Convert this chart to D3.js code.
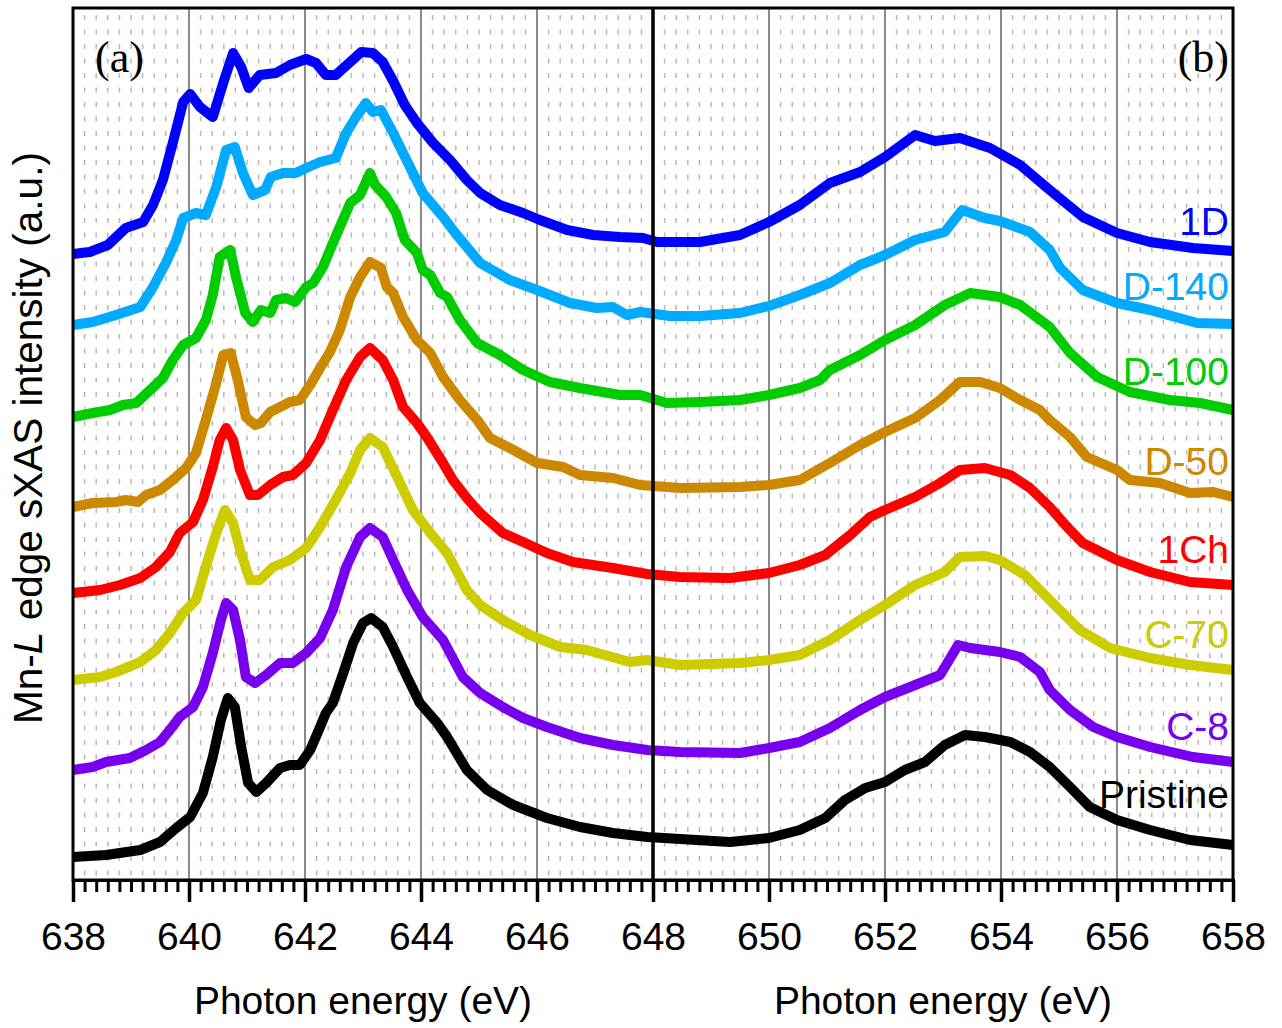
<!DOCTYPE html>
<html>
<head>
<meta charset="utf-8">
<script src="https://cdn.jsdelivr.net/npm/d3@7"></script>
<style>
  body { margin: 0; background: #fff; }
  svg { font-family: "Liberation Sans", Arial, sans-serif; }
</style>
</head>
<body>
<svg id="chart" width="1282" height="1028"></svg>
<script>
// Mn L-edge soft X-ray absorption spectra, stacked with vertical offsets (a.u.)
const seriesNames = ["1D", "D-140", "D-100", "D-50", "1Ch", "C-70", "C-8", "Pristine"];

// [photon energy (eV), intensity (a.u., offset included)]
const s1D = [[638.00,6.26],[638.29,6.28],[638.60,6.35],[638.91,6.52],[639.21,6.58],[639.38,6.75],[639.55,7.00],[639.72,7.37],[639.90,7.78],[640.02,7.86],[640.19,7.73],[640.41,7.63],[640.59,7.97],[640.76,8.27],[640.90,8.13],[641.03,7.92],[641.22,8.05],[641.50,8.07],[641.74,8.15],[642.02,8.21],[642.19,8.17],[642.36,8.05],[642.53,8.05],[642.78,8.18],[642.97,8.28],[643.17,8.27],[643.34,8.18],[643.52,7.99],[643.72,7.75],[643.93,7.57],[644.21,7.37],[644.50,7.20],[644.79,7.00],[645.02,6.87],[645.36,6.75],[645.76,6.67],[646.05,6.60],[646.52,6.50],[646.97,6.45],[647.43,6.43],[647.83,6.42],[648.07,6.38],[648.47,6.38],[648.81,6.38],[649.50,6.45],[650.00,6.58],[650.53,6.75],[651.05,6.97],[651.57,7.08],[652.00,7.23],[652.52,7.45],[652.86,7.39],[653.29,7.42],[653.81,7.32],[654.33,7.15],[654.84,6.90],[655.41,6.63],[656.00,6.47],[656.57,6.38],[657.31,6.32],[658.00,6.29]];
const sD140 = [[638.00,5.55],[638.34,5.58],[638.74,5.65],[639.16,5.73],[639.38,5.93],[639.60,6.17],[639.78,6.40],[639.90,6.62],[640.12,6.67],[640.29,6.65],[640.47,6.93],[640.64,7.30],[640.79,7.33],[640.93,7.07],[641.10,6.85],[641.31,6.90],[641.41,7.03],[641.62,7.07],[641.84,7.07],[642.02,7.12],[642.26,7.18],[642.53,7.22],[642.71,7.47],[642.88,7.63],[643.05,7.77],[643.17,7.68],[643.31,7.70],[643.52,7.47],[643.69,7.27],[643.86,7.07],[644.03,6.87],[644.38,6.63],[644.59,6.47],[645.02,6.17],[645.53,6.00],[646.00,5.90],[646.57,5.77],[647.03,5.72],[647.31,5.73],[647.55,5.65],[647.78,5.68],[648.29,5.64],[648.81,5.64],[649.50,5.67],[650.00,5.74],[650.53,5.85],[651.05,5.97],[651.57,6.15],[652.00,6.25],[652.52,6.40],[653.03,6.48],[653.33,6.70],[653.72,6.62],[653.98,6.59],[654.50,6.48],[654.84,6.30],[655.02,6.12],[655.41,5.90],[656.00,5.77],[656.57,5.70],[657.38,5.57],[658.00,5.56]];
const sD100 = [[638.00,4.63],[638.34,4.67],[638.64,4.70],[638.86,4.75],[639.09,4.77],[639.33,4.90],[639.55,5.02],[639.72,5.20],[639.90,5.35],[640.12,5.42],[640.29,5.60],[640.41,5.85],[640.53,6.23],[640.71,6.30],[640.81,6.03],[640.97,5.67],[641.10,5.58],[641.24,5.70],[641.40,5.67],[641.50,5.80],[641.67,5.82],[641.83,5.78],[642.02,5.93],[642.14,5.97],[642.31,6.13],[642.43,6.30],[642.60,6.53],[642.78,6.77],[642.95,6.85],[643.12,7.07],[643.21,6.95],[643.40,6.83],[643.57,6.67],[643.72,6.40],[643.93,6.27],[644.03,6.10],[644.16,6.05],[644.33,5.87],[644.45,5.83],[644.67,5.60],[644.97,5.37],[645.36,5.25],[645.76,5.10],[646.22,4.98],[646.74,4.92],[647.43,4.85],[647.78,4.85],[648.24,4.77],[648.81,4.78],[649.50,4.80],[650.00,4.85],[650.53,4.92],[650.88,5.00],[651.05,5.10],[651.57,5.25],[652.00,5.40],[652.52,5.55],[653.03,5.75],[653.47,5.87],[653.98,5.83],[654.33,5.75],[654.84,5.53],[655.19,5.27],[655.66,5.03],[656.22,4.88],[656.91,4.80],[657.43,4.77],[658.00,4.70]];
const sD50 = [[638.00,3.73],[638.34,3.77],[638.74,3.78],[638.91,3.80],[639.12,3.78],[639.26,3.85],[639.50,3.90],[639.72,4.00],[639.95,4.12],[640.12,4.27],[640.29,4.60],[640.47,4.97],[640.59,5.25],[640.72,5.27],[640.84,5.00],[640.98,4.63],[641.14,4.55],[641.24,4.57],[641.40,4.68],[641.57,4.73],[641.74,4.78],[641.91,4.80],[642.09,4.95],[642.26,5.12],[642.43,5.28],[642.60,5.50],[642.78,5.83],[642.95,6.03],[643.12,6.18],[643.31,6.12],[643.41,5.93],[643.52,5.87],[643.69,5.63],[643.93,5.40],[644.16,5.27],[644.38,5.03],[644.67,4.80],[644.97,4.60],[645.19,4.42],[645.53,4.32],[646.00,4.17],[646.45,4.13],[646.74,4.05],[647.31,4.02],[647.78,3.95],[648.47,3.92],[649.50,3.93],[650.00,3.95],[650.53,4.00],[651.05,4.17],[651.57,4.35],[652.00,4.48],[652.52,4.62],[652.95,4.80],[653.29,4.98],[653.64,4.98],[653.98,4.92],[654.33,4.80],[654.67,4.70],[654.84,4.60],[655.19,4.43],[655.48,4.23],[656.00,4.10],[656.22,4.00],[656.74,3.97],[657.26,3.87],[657.66,3.88],[658.00,3.83]];
const s1Ch = [[638.00,2.87],[638.47,2.90],[638.81,2.95],[639.16,3.02],[639.43,3.13],[639.67,3.28],[639.84,3.47],[640.07,3.58],[640.24,3.80],[640.41,4.13],[640.53,4.40],[640.64,4.52],[640.76,4.40],[640.88,4.10],[641.05,3.85],[641.19,3.85],[641.40,3.95],[641.62,4.03],[641.79,4.05],[642.02,4.17],[642.26,4.40],[642.48,4.70],[642.71,5.00],[642.95,5.23],[643.12,5.32],[643.34,5.20],[643.52,5.00],[643.69,4.73],[643.93,4.57],[644.10,4.43],[644.38,4.17],[644.55,4.00],[644.79,3.82],[645.02,3.67],[645.41,3.47],[645.76,3.38],[646.17,3.27],[646.62,3.18],[647.31,3.12],[647.90,3.06],[648.47,3.03],[649.33,3.02],[650.00,3.07],[650.53,3.15],[650.97,3.25],[651.40,3.45],[651.74,3.63],[652.00,3.70],[652.52,3.83],[652.95,3.97],[653.29,4.10],[653.72,4.12],[654.16,4.05],[654.50,3.92],[654.84,3.73],[655.14,3.53],[655.41,3.37],[656.00,3.20],[656.57,3.08],[657.26,2.98],[658.00,2.95]];
const sC70 = [[638.00,2.00],[638.47,2.03],[638.74,2.08],[639.16,2.18],[639.43,2.30],[639.67,2.47],[639.90,2.67],[640.12,2.80],[640.29,3.13],[640.47,3.47],[640.62,3.70],[640.76,3.57],[640.88,3.30],[641.05,3.00],[641.22,3.00],[641.45,3.13],[641.74,3.20],[642.02,3.32],[642.26,3.53],[642.53,3.80],[642.78,4.07],[642.95,4.30],[643.12,4.42],[643.34,4.33],[643.59,4.03],[643.86,3.70],[644.16,3.47],[644.45,3.27],[644.79,2.90],[645.02,2.75],[645.41,2.60],[645.88,2.45],[646.40,2.33],[646.86,2.30],[647.60,2.18],[647.90,2.20],[648.47,2.15],[649.50,2.17],[650.00,2.20],[650.53,2.25],[651.05,2.40],[651.57,2.60],[652.00,2.75],[652.52,2.95],[653.03,3.08],[653.29,3.23],[653.72,3.24],[653.98,3.20],[654.41,3.05],[654.84,2.80],[655.36,2.50],[655.88,2.32],[656.57,2.22],[657.26,2.15],[658.00,2.10]];
const sC8 = [[638.00,1.10],[638.34,1.13],[638.57,1.18],[638.98,1.22],[639.26,1.30],[639.50,1.38],[639.67,1.50],[639.84,1.63],[640.07,1.73],[640.24,1.93],[640.41,2.27],[640.55,2.60],[640.64,2.77],[640.76,2.70],[640.88,2.40],[640.98,2.03],[641.14,1.97],[641.33,2.05],[641.57,2.17],[641.79,2.17],[642.02,2.27],[642.26,2.42],[642.48,2.70],[642.71,3.13],[642.95,3.43],[643.12,3.52],[643.34,3.43],[643.52,3.20],[643.76,2.90],[644.03,2.63],[644.38,2.40],[644.72,2.03],[645.02,1.87],[645.41,1.73],[645.76,1.62],[646.17,1.53],[646.74,1.42],[647.31,1.35],[647.90,1.30],[648.47,1.28],[649.50,1.27],[650.00,1.32],[650.53,1.38],[651.05,1.52],[651.57,1.70],[652.00,1.83],[652.52,1.95],[652.95,2.05],[653.26,2.35],[653.47,2.32],[653.98,2.28],[654.33,2.23],[654.67,2.08],[654.84,1.90],[655.19,1.70],[655.59,1.53],[656.00,1.43],[656.57,1.33],[657.31,1.23],[658.00,1.18]];
const sPristine = [[638.00,0.23],[638.57,0.25],[639.16,0.30],[639.50,0.38],[639.78,0.52],[640.02,0.63],[640.24,0.87],[640.41,1.23],[640.55,1.60],[640.67,1.82],[640.79,1.73],[640.90,1.33],[641.02,0.97],[641.16,0.88],[641.33,0.97],[641.57,1.12],[641.74,1.15],[641.91,1.15],[642.09,1.30],[642.26,1.53],[642.36,1.67],[642.48,1.77],[642.66,2.07],[642.83,2.37],[643.00,2.57],[643.14,2.62],[643.34,2.53],[643.52,2.33],[643.76,2.03],[643.98,1.77],[644.28,1.57],[644.45,1.43],[644.79,1.10],[645.14,0.90],[645.59,0.75],[646.17,0.62],[646.74,0.53],[647.31,0.47],[647.90,0.43],[648.47,0.41],[649.33,0.38],[650.00,0.42],[650.53,0.50],[650.97,0.62],[651.31,0.80],[651.66,0.92],[652.00,0.98],[652.34,1.10],[652.69,1.18],[653.03,1.35],[653.38,1.45],[653.72,1.43],[654.16,1.38],[654.50,1.28],[654.84,1.13],[655.19,0.93],[655.53,0.73],[656.00,0.60],[656.57,0.50],[657.26,0.40],[658.00,0.35]];

const seriesValues = [s1D, sD140, sD100, sD50, s1Ch, sC70, sC8, sPristine];

const xMajorTicks = [638, 640, 642, 644, 646, 648, 650, 652, 654, 656, 658];
const panelLabels = ["(a)", "(b)"];
const xTitle = "Photon energy (eV)";

// styling
const colors = ["#0000ff", "#00aaff", "#00cc00", "#cc8800", "#ff0000", "#cccc00", "#7700ee", "#000000"];
const labelLift = [16, 24, 25, 22, 22, 22, 22, 37]; // px above the curve's right end
const serif = "'Liberation Serif', 'Times New Roman', serif";

const svg = d3.select("#chart");
const m = { left: 73, right: 1233, top: 8, bottom: 880 };

const x = d3.scaleLinear().domain([638, 658]).range([m.left, m.right]);
const y = d3.scaleLinear().domain([0, 8.72]).range([m.bottom, m.top]);

// minor grid every 0.2 eV
const minorVals = d3.range(0, 101).map(i => 638 + i * 0.2).filter(v => Math.abs(v / 2 - Math.round(v / 2)) > 1e-6);
const grid = svg.append("g");
grid.selectAll("line.minor").data(minorVals).join("line")
  .attr("x1", d => x(d)).attr("x2", d => x(d))
  .attr("y1", m.top).attr("y2", m.bottom)
  .attr("stroke", "#b8b8b8").attr("stroke-width", 1.5)
  .attr("stroke-dasharray", "5,9.5").attr("stroke-dashoffset", -7);
grid.selectAll("line.major").data(xMajorTicks.filter(v => v > 638 && v < 658 && v !== 648)).join("line")
  .attr("x1", d => x(d)).attr("x2", d => x(d))
  .attr("y1", m.top).attr("y2", m.bottom)
  .attr("stroke", "#8a8a8a").attr("stroke-width", 2);

// spectra
const line = d3.line().x(d => x(d[0])).y(d => y(d[1])).curve(d3.curveLinear);
svg.append("g").selectAll("path").data(seriesValues).join("path")
  .attr("d", line)
  .attr("fill", "none")
  .attr("stroke", (d, i) => colors[i])
  .attr("stroke-width", 10)
  .attr("stroke-linejoin", "round")
  .attr("stroke-linecap", "butt");

// frame and panel divider
svg.append("rect").attr("x", m.left).attr("y", m.top)
  .attr("width", m.right - m.left).attr("height", m.bottom - m.top)
  .attr("fill", "none").attr("stroke", "#000").attr("stroke-width", 3);
svg.append("line").attr("x1", x(648)).attr("x2", x(648)).attr("y1", m.top).attr("y2", m.bottom)
  .attr("stroke", "#000").attr("stroke-width", 3.5);

// bottom axis: major and minor ticks
const minorAxis = d3.axisBottom(x).tickValues(minorVals).tickSize(12).tickFormat("");
const gMinor = svg.append("g").attr("transform", `translate(0,${m.bottom})`).call(minorAxis);
gMinor.select(".domain").remove();
gMinor.selectAll("line").attr("stroke", "#000").attr("stroke-width", 3);

const majorAxis = d3.axisBottom(x).tickValues(xMajorTicks).tickSize(22).tickPadding(20).tickFormat(d3.format("d"));
const gMajor = svg.append("g").attr("transform", `translate(0,${m.bottom})`).call(majorAxis);
gMajor.select(".domain").attr("stroke", "#000").attr("stroke-width", 3);
gMajor.selectAll("line").attr("stroke", "#000").attr("stroke-width", 3.5);
gMajor.selectAll("text").attr("fill", "#000")
  .style("font-size", "39px").style("font-family", "'Liberation Sans', Arial, sans-serif");

// axis titles
[[638, 648], [648, 658]].forEach(([a, b]) => {
  svg.append("text").attr("x", (x(a) + x(b)) / 2).attr("y", 1014)
    .attr("text-anchor", "middle").style("font-size", "39px").attr("fill", "#000")
    .text(xTitle);
});

const yt = svg.append("text")
  .attr("transform", `translate(42,${(m.top + m.bottom) / 2 - 6}) rotate(-90)`)
  .attr("text-anchor", "middle").style("font-size", "40.5px").attr("fill", "#000");
yt.append("tspan").text("Mn-");
yt.append("tspan").style("font-style", "italic").text("L");
yt.append("tspan").text(" edge sXAS intensity (a.u.)");

// panel labels
svg.append("text").attr("x", 95).attr("y", 72)
  .style("font-size", "44px").style("font-family", serif).text(panelLabels[0]);
svg.append("text").attr("x", 1229).attr("y", 72).attr("text-anchor", "end")
  .style("font-size", "44px").style("font-family", serif).text(panelLabels[1]);

// series labels at the right end of each curve
svg.append("g").selectAll("text").data(seriesNames).join("text")
  .attr("x", 1229)
  .attr("y", (d, i) => y(seriesValues[i][seriesValues[i].length - 1][1]) - labelLift[i])
  .attr("text-anchor", "end").style("font-size", "39px")
  .attr("fill", (d, i) => colors[i])
  .text(d => d);
</script>
</body>
</html>
